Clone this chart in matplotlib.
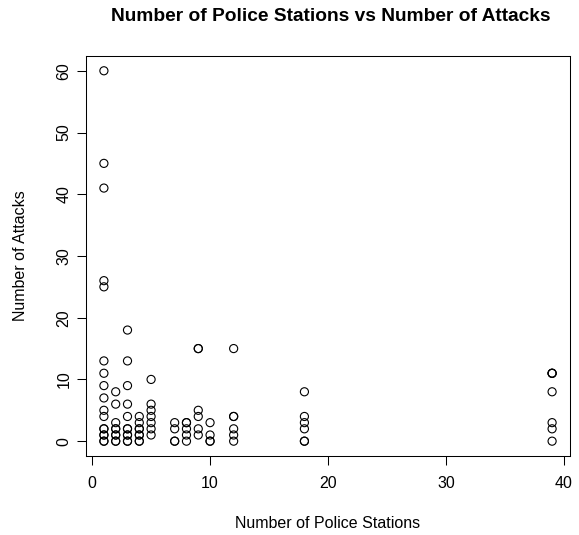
import matplotlib
matplotlib.use("Agg")
import matplotlib.pyplot as plt

plt.rcParams["font.family"] = ["Liberation Sans", "DejaVu Sans"]

# one entry per district: police stations and recorded attacks
stations = (
    [1] * 17 + [2] * 9 + [3] * 11 + [4] * 8 + [5] * 7 + [7] * 4
    + [8] * 5 + [9] * 6 + [10] * 4 + [12] * 6 + [18] * 6 + [39] * 7
)
attacks = (
    [0, 0, 1, 1, 2, 2, 4, 5, 7, 9, 11, 13, 25, 26, 41, 45, 60]
    + [0, 0, 1, 1, 2, 2, 3, 6, 8]
    + [0, 0, 1, 1, 2, 2, 4, 6, 9, 13, 18]
    + [0, 0, 1, 1, 2, 2, 3, 4]
    + [1, 2, 3, 4, 5, 6, 10]
    + [0, 0, 2, 3]
    + [0, 1, 2, 3, 3]
    + [1, 2, 4, 5, 15, 15]
    + [0, 0, 1, 3]
    + [0, 1, 2, 4, 4, 15]
    + [0, 0, 2, 3, 4, 8]
    + [0, 2, 3, 8, 11, 11, 11]
)

xticks = [0, 10, 20, 30, 40]
yticks = [0, 10, 20, 30, 40, 50, 60]

fig = plt.figure(figsize=(5.79, 5.35), dpi=100)
ax = fig.add_axes([0.1485, 0.1477, 0.836, 0.7477])

ax.scatter(stations, attacks, s=34, facecolors="none", edgecolors="black",
           linewidths=0.8)

# R-style 4% padding around the data range
x0, x1 = min(stations), max(stations)
y0, y1 = min(attacks), max(attacks)
ax.set_xlim(x0 - 0.04 * (x1 - x0), x1 + 0.04 * (x1 - x0))
ax.set_ylim(y0 - 0.04 * (y1 - y0), y1 + 0.04 * (y1 - y0))

ax.set_xticks(xticks)
ax.set_yticks(yticks)
ax.tick_params(direction="out", length=6.5, width=0.75, labelsize=11.5)
ax.tick_params(axis="x", pad=8)
ax.tick_params(axis="y", pad=4)
for lbl in ax.get_yticklabels():
    lbl.set_rotation(90)
    lbl.set_va("center")
for s in ax.spines.values():
    s.set_linewidth(0.75)

fig.text(0.5665, 0.0206, "Number of Police Stations", fontsize=11.5,
         ha="center", va="center")
fig.text(0.036, 0.5215, "Number of Attacks", fontsize=11.5,
         ha="center", va="center", rotation=90)
fig.text(0.572, 0.970, "Number of Police Stations vs Number of Attacks",
         fontsize=13.8, fontweight="bold", ha="center", va="center")

fig.savefig("out.png", dpi=100)
